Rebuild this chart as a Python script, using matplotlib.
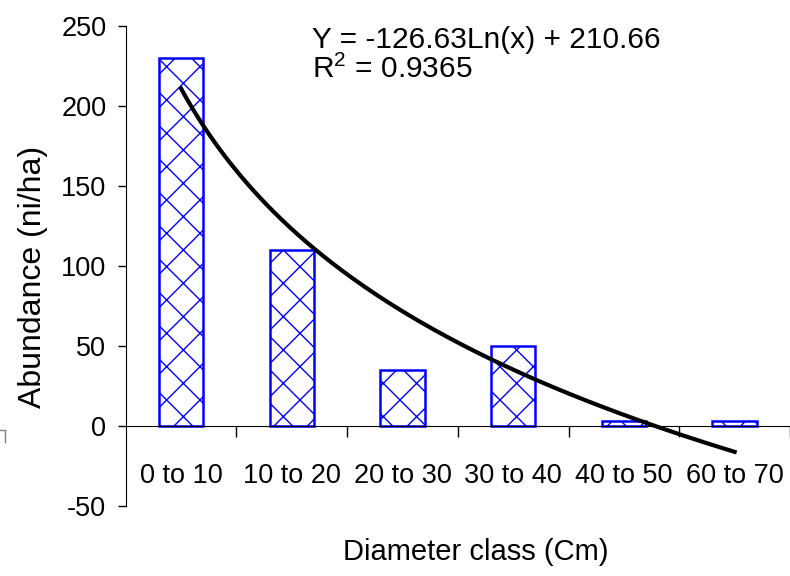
import numpy as np
import matplotlib
matplotlib.use('Agg')
import matplotlib.pyplot as plt
from matplotlib.lines import Line2D

classes = ['0 to 10', '10 to 20', '20 to 30', '30 to 40', '40 to 50', '60 to 70']
abundance = [230, 110, 35, 50, 3, 3]
yticks = [-50, 0, 50, 100, 150, 200, 250]

blue = '#0000FF'
plt.rcParams['font.family'] = ['Liberation Sans', 'DejaVu Sans']
plt.rcParams['mathtext.fontset'] = 'custom'
plt.rcParams['mathtext.rm'] = 'Liberation Sans'
plt.rcParams['hatch.linewidth'] = 1.0

fig = plt.figure(figsize=(7.9, 5.76), dpi=100)
ax = fig.add_axes([125.7 / 790, 1 - 505.7 / 576, (790 - 125.7) / 790, (505.7 - 26) / 576])

x = np.arange(len(classes))
ax.bar(x, abundance, width=0.4, facecolor='white', edgecolor=blue,
       hatch='x', linewidth=1.8, zorder=2)

# logarithmic trendline fitted on the bars (x = 1..6)
k = x + 1
slope, icpt = np.polyfit(np.log(k), abundance, 1)
xs = np.linspace(1, len(classes), 200)
ax.plot(xs - 1, slope * np.log(xs) + icpt, color='black', lw=3, zorder=3)

ax.text(1.18, 250, 'Y = -126.63Ln(x) + 210.66\nR$^2$ = 0.9365', va='top', ha='left',
        fontsize=21.5, linespacing=1.0)

ax.set_xlim(-0.5, -0.5 + (790 - 125.7) / 112.4)
ax.set_ylim(-50, 250)
ax.set_yticks(yticks)
ax.set_yticklabels([str(v) for v in yticks])
ax.set_xticks(x)
ax.set_xticklabels(classes)
ax.set_xticks(np.arange(0.5, len(classes), 1), minor=True)
ax.tick_params(axis='x', which='major', length=0, pad=27, labelsize=19.5)
ax.tick_params(axis='x', which='minor', length=8, width=1, direction='out')
ax.tick_params(axis='y', length=6, width=1, pad=8, labelsize=19.5)

ax.spines['top'].set_visible(False)
ax.spines['right'].set_visible(False)
ax.spines['bottom'].set_position(('data', 0))
ax.spines['bottom'].set_linewidth(0.8)
ax.spines['left'].set_linewidth(0.8)

fig.text(33 / 790, 1 - 277 / 576, 'Abundance (ni/ha)', rotation=90, va='center',
         ha='center', fontsize=23)
fig.text(476 / 790, 1 - 552 / 576, 'Diameter class (Cm)', va='center', ha='center',
         fontsize=21)

fig.add_artist(Line2D([0, 5 / 790, 5 / 790], [1 - 430 / 576, 1 - 430 / 576, 1 - 442 / 576],
                      color='gray', lw=1))

fig.savefig('out.png', dpi=100)
